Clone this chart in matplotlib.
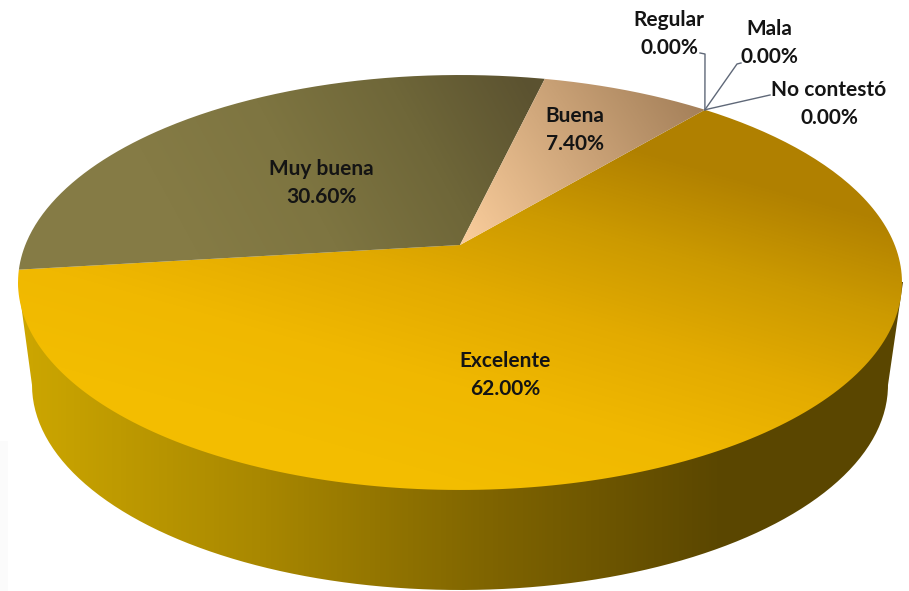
#!/usr/bin/env python3
"""
Satisfaction pie drawn with a 3D look (perspective disc + side wall)
"""

import numpy as np
import matplotlib
matplotlib.use('Agg')
import matplotlib.pyplot as plt
from matplotlib.colors import LinearSegmentedColormap
from matplotlib.patches import PathPatch
from matplotlib.path import Path

# Data, clockwise from the back right of the disc
categories = ['Excelente', 'Muy buena', 'Buena', 'Regular', 'Mala', 'No contestó']
percent = [62.00, 30.60, 7.40, 0.00, 0.00, 0.00]
value_labels = ['62.00%', '30.60%', '7.40%', '0.00%', '0.00%', '0.00%']

START_ANGLE = 50.1

# Perspective of the disc, in pixels
CX, CY = 460.0, 245.0
PERSP = 0.1807
SCALE_X, SCALE_Y = 434.7, 200.7


def project(angle_deg):
    """Map angle on the unit circle to the tilted disc"""
    a = np.radians(angle_deg)
    x, y = np.cos(a), np.sin(a)
    w = 1 + PERSP * y
    return CX + SCALE_X * x / w, CY - SCALE_Y * y / w


def gradient(ax, path, p0, p1, colors, zorder):
    """Fill path with a linear gradient running from p0 to p1"""
    cmap = LinearSegmentedColormap.from_list('g', colors)
    xx, yy = np.meshgrid(np.arange(909) + 0.5, np.arange(591) + 0.5)
    dx, dy = p1[0] - p0[0], p1[1] - p0[1]
    t = ((xx - p0[0]) * dx + (yy - p0[1]) * dy) / (dx * dx + dy * dy)
    im = ax.imshow(np.clip(t, 0, 1), extent=(0, 909, 591, 0), cmap=cmap, vmin=0, vmax=1,
                   aspect='auto', zorder=zorder, interpolation='bilinear')
    patch = PathPatch(path, facecolor='none', edgecolor='none', transform=ax.transData)
    ax.add_patch(patch)
    im.set_clip_path(patch)


def wedge_path(a0, a1):
    """Closed path of one slice, a0 and a1 in degrees"""
    xs, ys = project(np.linspace(a0, a1, 200))
    verts = [(CX, CY)] + list(zip(xs, ys)) + [(CX, CY)]
    return Path(verts)


fig = plt.figure(figsize=(9.09, 5.91), dpi=100)
ax = fig.add_axes([0, 0, 1, 1])

# Faint grey strip at the lower left of the scan
ax.fill_between([0, 8], [441, 441], [591, 591], color='#FBFBFB', lw=0, zorder=0)

# Side wall: bottom half of a lower ellipse joined to the ends of the disc
t = np.radians(np.linspace(0, 180, 200))
wall_x = list(460 + 428 * np.cos(t))
wall_y = list(385 + 205 * np.sin(t))
wall = Path([(18, 282)] + list(zip(wall_x[::-1], wall_y[::-1])) + [(903, 282)] + [(18, 282)])
gradient(ax, wall, (25, 0), (725, 0), ['#CCA600', '#A98800', '#7F6400', '#5A4600'], 1)

# Top of the disc
top_styles = [
    ((420, 470), (520, 115), ['#F3BD00', '#F0B800', '#E3AB00', '#CC9A00', '#B08000']),
    ((200, 260), (530, 80), ['#857B45', '#7E7541', '#6F6739', '#5B5230']),
    ((470, 240), (700, 90), ['#F8CB9A', '#A27E58']),
]
angle = START_ANGLE
for value, style in zip(percent[:3], top_styles):
    sweep = value * 3.6
    gradient(ax, wedge_path(angle, angle - sweep), style[0], style[1], style[2], 2)
    angle -= sweep

# Leader lines of the empty slices
apex_x, apex_y = project(START_ANGLE)
ax.plot([apex_x, 705, 700], [apex_y, 54, 53], color='#5F6878', lw=1, zorder=3)
ax.plot([apex_x, 737, 741], [apex_y, 64, 63], color='#5F6878', lw=1, zorder=3)
ax.plot([apex_x, 770], [apex_y, 95], color='#5F6878', lw=1, zorder=3)

# Labels
label_pos = [(505, 375), (321, 183), (575, 130), (669, 34), (769, 43), (829, 104)]
for name, text, (x, y) in zip(categories, value_labels, label_pos):
    ax.text(x, y, f'{name}\n{text}', ha='center', va='center', fontsize=15,
            fontweight='bold', family='Lato', color='#141414', linespacing=1.48, zorder=4)

ax.set_xlim(0, 909)
ax.set_ylim(591, 0)
ax.axis('off')

plt.savefig('out.png', dpi=100)
